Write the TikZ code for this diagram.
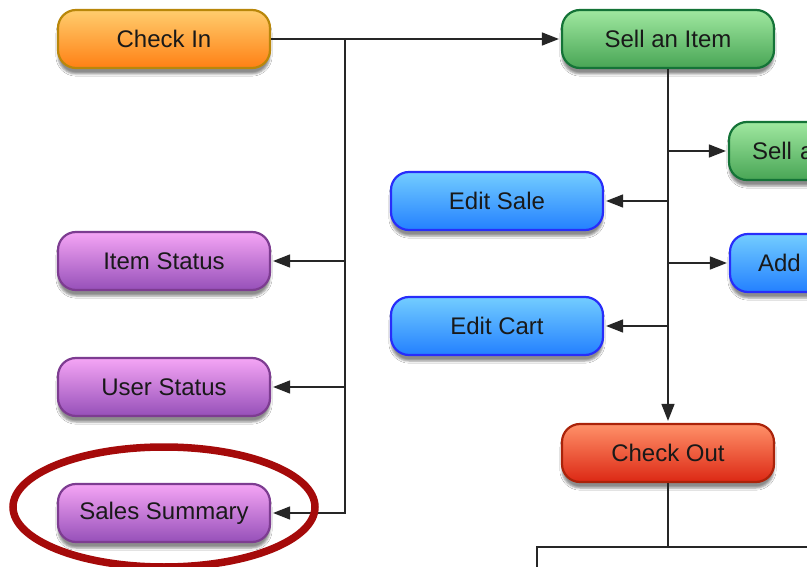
\documentclass[tikz,border=0pt]{standalone}
\usepackage{fontspec}
\setmainfont{Liberation Sans}
\usetikzlibrary{arrows.meta,shadows.blur}
\definecolor{orangetop}{RGB}{255,205,110}
\definecolor{orangebot}{RGB}{255,128,20}
\definecolor{orangeline}{RGB}{185,135,10}
\definecolor{greentop}{RGB}{160,232,160}
\definecolor{greenbot}{RGB}{72,165,85}
\definecolor{greenline}{RGB}{20,115,55}
\definecolor{bluetop}{RGB}{115,205,255}
\definecolor{bluebot}{RGB}{35,128,255}
\definecolor{blueline}{RGB}{40,45,250}
\definecolor{purpletop}{RGB}{245,165,245}
\definecolor{purplebot}{RGB}{150,80,185}
\definecolor{purpleline}{RGB}{125,60,145}
\definecolor{redtop}{RGB}{255,145,105}
\definecolor{redbot}{RGB}{220,40,20}
\definecolor{redline}{RGB}{170,35,10}
\definecolor{ringred}{RGB}{165,10,10}
\tikzset{
	box/.style={rounded corners=18pt, draw, line width=2.2pt,
		minimum width=212pt, minimum height=58pt,
		blur shadow={shadow xshift=0pt, shadow yshift=-6pt, shadow opacity=45},
		font=\fontsize{24}{28}\selectfont, text=black!90},
	orangebox/.style={box, draw=orangeline, top color=orangetop, bottom color=orangebot},
	greenbox/.style={box, draw=greenline, top color=greentop, bottom color=greenbot},
	bluebox/.style={box, draw=blueline, top color=bluetop, bottom color=bluebot},
	purplebox/.style={box, draw=purpleline, top color=purpletop, bottom color=purplebot},
	redbox/.style={box, draw=redline, top color=redtop, bottom color=redbot},
	link/.style={line width=1.5pt, draw=black!85},
	arr/.style={link, -{Triangle[length=17pt,width=13pt]}, shorten >=2pt},
}
\begin{document}
\begin{tikzpicture}[x=1pt,y=-1pt]
		\useasboundingbox (0,0) rectangle (807,567);
		\clip (0,0) rectangle (807,567);
		\fill[white] (0,0) rectangle (807,567);
		
		\node[orangebox] (checkin) at (164,39) {Check In};
		\node[greenbox] (sellitem) at (668,39) {Sell an Item};
		\node[greenbox, text width=166pt, inner xsep=23pt, align=left] (sella) at (835,151) {Sell a};
		\node[bluebox] (editsale) at (497,201) {Edit Sale};
		\node[bluebox, text width=156pt, inner xsep=28pt, align=left] (add) at (836,263) {Add};
		\node[purplebox] (itemstatus) at (164,261) {Item Status};
		\node[bluebox] (editcart) at (497,326) {Edit Cart};
		\node[purplebox] (userstatus) at (164,387) {User Status};
		\node[redbox] (checkout) at (668,453) {Check Out};
		\node[purplebox] (salessum) at (164,513) {Sales Summary};
		
		\coordinate (split) at (345,39);
		\draw[arr] (checkin) -- (sellitem);
		\draw[arr] (split) |- (itemstatus);
		\draw[arr] (split) |- (userstatus);
		\draw[arr] (split) |- (salessum);
		
		\draw[arr] (sellitem) -- (checkout);
		\draw[arr] (sellitem.south |- sella) -- (sella);
		\draw[arr] (sellitem.south |- editsale) -- (editsale);
		\draw[arr] (sellitem.south |- add) -- (add);
		\draw[arr] (sellitem.south |- editcart) -- (editcart);
		
		% out of view below
		\coordinate (bl) at (537,547);
		\coordinate (br) at (830,547);
		\coordinate (bld) at (537,590);
		\draw[link] (checkout) -- (checkout |- bl);
		\draw[link] (bld) -- (bl) -- (br);
		
		\draw[ringred, line width=7.5pt] (164,507) ellipse (151pt and 60pt);
		\end{tikzpicture}
\end{document}
